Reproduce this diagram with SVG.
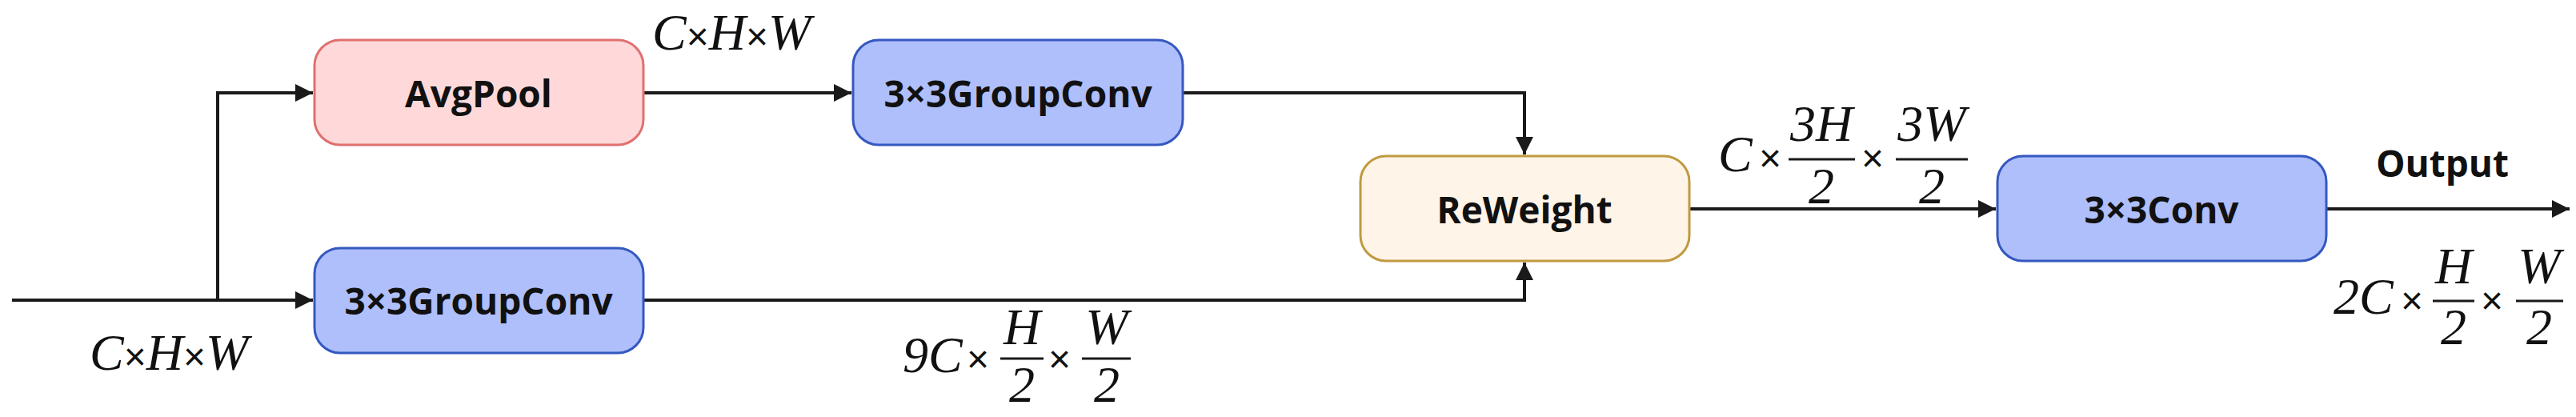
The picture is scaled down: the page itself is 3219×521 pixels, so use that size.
<svg xmlns="http://www.w3.org/2000/svg" width="3219" height="521" viewBox="0 0 3219 521">
<style>
.box{stroke-width:3}
.lbl{font-family:"Open Sans","DejaVu Sans",sans-serif;font-weight:bold;font-size:46px;fill:#111;text-anchor:middle;dominant-baseline:central}
.m{font-family:"Liberation Serif",serif;font-style:italic;font-size:64px;fill:#111}
.x{font-family:"Liberation Sans",sans-serif;font-style:normal;font-size:48px;fill:#111}
.c{text-anchor:middle}
.ln{stroke:#1a1a1a;stroke-width:4;fill:none}
.fl{stroke:#1a1a1a;stroke-width:3}
</style>
<defs>
<marker id="ah" viewBox="0 0 10 10" refX="10" refY="5" markerWidth="5.5" markerHeight="5.5" orient="auto" markerUnits="strokeWidth">
<path d="M0,0 L10,5 L0,10 z" fill="#1a1a1a"/>
</marker>
</defs>
<g id="connectors">
<path class="ln" d="M15,375 H391" marker-end="url(#ah)"/>
<path class="ln" d="M272,375 V116 H391" marker-end="url(#ah)"/>
<path class="ln" d="M804,116 H1064" marker-end="url(#ah)"/>
<path class="ln" d="M1478,116 H1905 V193" marker-end="url(#ah)"/>
<path class="ln" d="M804,375 H1905 V328" marker-end="url(#ah)"/>
<path class="ln" d="M2111,261 H2494" marker-end="url(#ah)"/>
<path class="ln" d="M2907,261 H3211" marker-end="url(#ah)"/>
</g>
<g id="avgpool"><rect class="box" x="393" y="50" width="411" height="131" rx="32" fill="#ffd9d9" stroke="#e07070"/><text class="lbl" x="598" y="116">AvgPool</text></g>
<g id="gconv1"><rect class="box" x="1066" y="50" width="412" height="131" rx="32" fill="#afbffb" stroke="#3558c0"/><text class="lbl" x="1272" y="116">3×3GroupConv</text></g>
<g id="gconv2"><rect class="box" x="393" y="310" width="411" height="131" rx="32" fill="#afbffb" stroke="#3558c0"/><text class="lbl" x="598" y="375">3×3GroupConv</text></g>
<g id="reweight"><rect class="box" x="1700" y="195" width="411" height="131" rx="32" fill="#fff4e8" stroke="#c09a40"/><text class="lbl" x="1905" y="261">ReWeight</text></g>
<g id="conv"><rect class="box" x="2496" y="195" width="411" height="131" rx="32" fill="#afbffb" stroke="#3558c0"/><text class="lbl" x="2701" y="261">3×3Conv</text></g>
<text class="lbl" x="3052" y="203">Output</text>
<g id="labels">
<text class="m" x="815" y="62">C<tspan class="x">×</tspan>H<tspan class="x">×</tspan>W</text>
<text class="m" x="112" y="462">C<tspan class="x">×</tspan>H<tspan class="x">×</tspan>W</text>
<text class="m" x="1128" y="465">9C</text><text class="x" x="1208" y="465">×</text>
<text class="m c" x="1277" y="430">H</text><line class="fl" x1="1250" y1="448" x2="1304" y2="448"/><text class="m c" x="1277" y="502">2</text>
<text class="x" x="1310" y="465">×</text>
<text class="m c" x="1383" y="430">W</text><line class="fl" x1="1352" y1="448" x2="1413" y2="448"/><text class="m c" x="1383" y="502">2</text>
<text class="m" x="2147" y="214">C</text><text class="x" x="2198" y="214">×</text>
<text class="m c" x="2276" y="176">3H</text><line class="fl" x1="2235" y1="199" x2="2318" y2="199"/><text class="m c" x="2276" y="254">2</text>
<text class="x" x="2326" y="214">×</text>
<text class="m c" x="2414" y="176">3W</text><line class="fl" x1="2369" y1="199" x2="2459" y2="199"/><text class="m c" x="2414" y="254">2</text>
<text class="m" x="2916" y="392">2C</text><text class="x" x="3000" y="392">×</text>
<text class="m c" x="3066" y="354">H</text><line class="fl" x1="3040" y1="376" x2="3092" y2="376"/><text class="m c" x="3066" y="430">2</text>
<text class="x" x="3100" y="392">×</text>
<text class="m c" x="3173" y="354">W</text><line class="fl" x1="3144" y1="376" x2="3203" y2="376"/><text class="m c" x="3173" y="430">2</text>
</g>
</svg>
